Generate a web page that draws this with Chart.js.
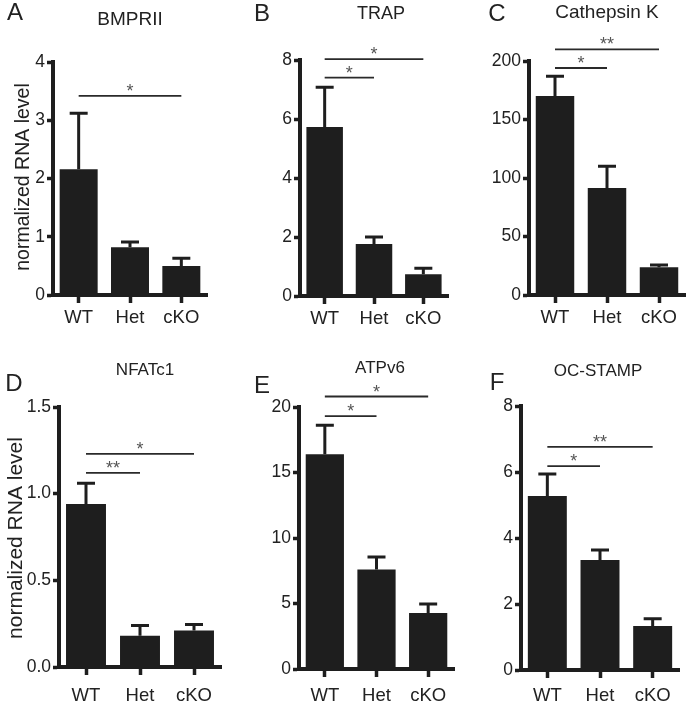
<!DOCTYPE html>
<html>
<head>
<meta charset="utf-8">
<script src="https://cdn.jsdelivr.net/npm/chart.js@4.4.1/dist/chart.umd.min.js"></script>
<style>
  html, body { margin: 0; padding: 0; background: #fff; }
  #fig { position: relative; width: 693px; height: 710px; }
  #fig canvas { position: absolute; }
</style>
</head>
<body>
<div id="fig"></div>
<script>
const groups = ['WT', 'Het', 'cKO'];

// mean and upper SEM for each gene, plus significance brackets [from, to, y, label]
const bmpr2Mean = [2.16, 0.82, 0.50];
const bmpr2Sem = [0.96, 0.09, 0.13];
const bmpr2Sig = [[0, 2, 3.42, '*']];
const bmpr2Ticks = [0, 1, 2, 3, 4];

const trapMean = [5.73, 1.76, 0.74];
const trapSem = [1.35, 0.24, 0.20];
const trapSig = [[0, 1, 7.4, '*'], [0, 2, 8.03, '*']];
const trapTicks = [0, 2, 4, 6, 8];

const ctskMean = [170, 91.5, 23.7];
const ctskSem = [17, 18.5, 1.9];
const ctskSig = [[0, 1, 194, '*'], [0, 2, 210, '**']];
const ctskTicks = [0, 50, 100, 150, 200];

const nfatc1Mean = [0.94, 0.18, 0.21];
const nfatc1Sem = [0.12, 0.06, 0.035];
const nfatc1Sig = [[0, 1, 1.12, '**'], [0, 2, 1.23, '*']];
const nfatc1Ticks = [0, 0.5, 1.0, 1.5];

const atpv6Mean = [16.4, 7.6, 4.27];
const atpv6Sem = [2.2, 0.95, 0.7];
const atpv6Sig = [[0, 1, 19.3, '*'], [0, 2, 20.8, '*']];
const atpv6Ticks = [0, 5, 10, 15, 20];

const ocstampMean = [5.27, 3.33, 1.33];
const ocstampSem = [0.67, 0.31, 0.22];
const ocstampSig = [[0, 1, 6.18, '*'], [0, 2, 6.76, '**']];
const ocstampTicks = [0, 2, 4, 6, 8];

const ink = '#1e1e1e';
const family = '"Liberation Sans", Arial, Helvetica, sans-serif';

// box = canvas [x, y, w, h]; area = plot [left, top, right, bottom] in page pixels
const panels = [
  { letter: 'A', title: 'BMPRII', mean: bmpr2Mean, sem: bmpr2Sem, sig: bmpr2Sig, ticks: bmpr2Ticks, dec: 0,
    box: [0, 0, 231, 340], area: [53, 62, 207, 295], titlePos: [130, 20, 19], letterPos: [15, 13],
    yTitle: [24, 177, 19.5], xPad: 4 },
  { letter: 'B', title: 'TRAP', mean: trapMean, sem: trapSem, sig: trapSig, ticks: trapTicks, dec: 0,
    box: [231, 0, 231, 340], area: [300, 60, 448, 296], titlePos: [381, 14, 18], letterPos: [262, 14], xPad: 4 },
  { letter: 'C', title: 'Cathepsin K', mean: ctskMean, sem: ctskSem, sig: ctskSig, ticks: ctskTicks, dec: 0,
    box: [462, 0, 231, 340], area: [529, 61, 685, 295], titlePos: [607, 13, 19], letterPos: [497, 14], xPad: 4 },
  { letter: 'D', title: 'NFATc1', mean: nfatc1Mean, sem: nfatc1Sem, sig: nfatc1Sig, ticks: nfatc1Ticks, dec: 1,
    box: [0, 340, 231, 370], area: [59, 407, 221, 667], titlePos: [145, 370, 17], letterPos: [14, 384],
    yTitle: [16, 538, 21], xPad: 10 },
  { letter: 'E', title: 'ATPv6', mean: atpv6Mean, sem: atpv6Sem, sig: atpv6Sig, ticks: atpv6Ticks, dec: 0,
    box: [231, 340, 231, 370], area: [299, 407, 454, 669], titlePos: [380, 368, 17], letterPos: [262, 386], xPad: 8 },
  { letter: 'F', title: 'OC-STAMP', mean: ocstampMean, sem: ocstampSem, sig: ocstampSig, ticks: ocstampTicks, dec: 0,
    box: [462, 340, 231, 370], area: [521, 406, 679, 670], titlePos: [598, 371, 17], letterPos: [497, 383], xPad: 7 }
];

const xAxisH = 34;

function makeOverlay(p) {
  const ox = p.box[0], oy = p.box[1];
  return {
    id: 'overlay',
    afterDatasetsDraw(chart) {
      const ctx = chart.ctx, y = chart.scales.y, bars = chart.getDatasetMeta(0).data;
      ctx.save();
      ctx.strokeStyle = ink;
      ctx.lineWidth = 3;
      bars.forEach((bar, i) => {
        const top = y.getPixelForValue(p.mean[i] + p.sem[i]);
        ctx.beginPath();
        ctx.moveTo(bar.x, bar.y);
        ctx.lineTo(bar.x, top);
        ctx.moveTo(bar.x - 9, top);
        ctx.lineTo(bar.x + 9, top);
        ctx.stroke();
      });
      ctx.lineWidth = 1.8;
      ctx.strokeStyle = '#2a2a2a';
      ctx.fillStyle = '#555';
      ctx.font = '18px ' + family;
      ctx.textAlign = 'center';
      ctx.textBaseline = 'alphabetic';
      p.sig.forEach(([a, b, v, s]) => {
        const x1 = bars[a].x, x2 = bars[b].x, yy = y.getPixelForValue(v);
        ctx.beginPath();
        ctx.moveTo(x1, yy);
        ctx.lineTo(x2, yy);
        ctx.stroke();
        ctx.fillText(s, (x1 + x2) / 2, yy + 1);
      });
      ctx.restore();
    },
    afterDraw(chart) {
      const ctx = chart.ctx;
      ctx.save();
      ctx.fillStyle = '#222';
      ctx.textAlign = 'center';
      ctx.textBaseline = 'middle';
      ctx.font = p.titlePos[2] + 'px ' + family;
      ctx.fillText(p.title, p.titlePos[0] - ox, p.titlePos[1] - oy);
      ctx.font = '24px ' + family;
      ctx.fillText(p.letter, p.letterPos[0] - ox, p.letterPos[1] - oy);
      if (p.yTitle) {
        ctx.translate(p.yTitle[0] - ox, p.yTitle[1] - oy);
        ctx.rotate(-Math.PI / 2);
        ctx.font = p.yTitle[2] + 'px ' + family;
        ctx.fillText('normalized RNA level', 0, 0);
      }
      ctx.restore();
    }
  };
}

const fig = document.getElementById('fig');
panels.forEach(p => {
  const [bx, by, bw, bh] = p.box;
  const [L, T, R, B] = p.area;
  const cv = document.createElement('canvas');
  cv.width = bw; cv.height = bh;
  cv.style.left = bx + 'px'; cv.style.top = by + 'px';
  cv.style.width = bw + 'px'; cv.style.height = bh + 'px';
  fig.appendChild(cv);

  new Chart(cv.getContext('2d'), {
    type: 'bar',
    data: {
      labels: groups,
      datasets: [{ data: p.mean, backgroundColor: ink, borderWidth: 0, barPercentage: 0.74, categoryPercentage: 1 }]
    },
    options: {
      responsive: false,
      devicePixelRatio: 1,
      animation: false,
      layout: { padding: { left: 0, top: T - by, right: bx + bw - R, bottom: by + bh - B - xAxisH } },
      plugins: { legend: { display: false }, tooltip: { enabled: false } },
      scales: {
        x: {
          offset: true,
          afterFit: s => { s.height = xAxisH; },
          border: { display: true, color: ink, width: 4 },
          grid: { offset: false, drawOnChartArea: false, drawTicks: true, tickLength: 8, tickWidth: 3.5, tickColor: ink },
          ticks: { color: '#222', padding: p.xPad, font: { family: family, size: 18.5 } }
        },
        y: {
          min: p.ticks[0],
          max: p.ticks[p.ticks.length - 1],
          afterFit: s => { s.width = L - bx; },
          afterBuildTicks: s => { s.ticks = p.ticks.map(v => ({ value: v })); },
          border: { display: true, color: ink, width: 4 },
          grid: { drawOnChartArea: false, drawTicks: true, tickLength: 6, tickWidth: 3.5, tickColor: ink },
          ticks: { color: '#222', padding: 2, font: { family: family, size: 17.5 },
                   callback: v => Number(v).toFixed(p.dec) }
        }
      }
    },
    plugins: [makeOverlay(p)]
  });
});
</script>
</body>
</html>
